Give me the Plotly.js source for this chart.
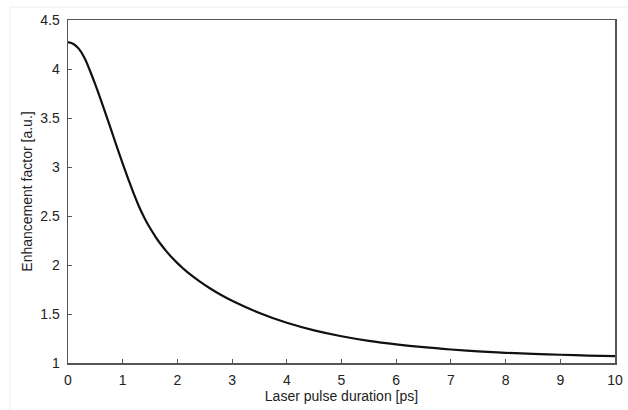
<!DOCTYPE html>
<html>
<head>
<meta charset="utf-8">
<script src="https://cdn.plot.ly/plotly-3.0.1.min.js"></script>
<style>html,body{margin:0;padding:0;background:#fff;}#chart{width:628px;height:410px;}</style>
</head>
<body>
<div id="chart"></div>
<script>
const pulseDuration = [0, 0.1, 0.2, 0.3, 0.4, 0.5, 0.6, 0.7, 0.8, 0.9, 1.0, 1.1, 1.2, 1.3, 1.4, 1.5, 1.6, 1.7, 1.8, 1.9, 2.0, 2.1, 2.2, 2.4, 2.6, 2.8, 3.0, 3.5, 4.0, 4.5, 5.0, 5.5, 6.0, 6.5, 7.0, 7.5, 8.0, 8.5, 9.0, 9.5, 10];
const enhancement = [4.275, 4.255, 4.205, 4.115, 3.985, 3.84, 3.685, 3.525, 3.36, 3.195, 3.035, 2.88, 2.73, 2.595, 2.478, 2.377, 2.288, 2.209, 2.139, 2.076, 2.019, 1.967, 1.919, 1.835, 1.76, 1.694, 1.635, 1.51, 1.41, 1.333, 1.273, 1.226, 1.19, 1.161, 1.138, 1.119, 1.104, 1.093, 1.084, 1.076, 1.07];
const xTicks = [0,1,2,3,4,5,6,7,8,9,10];
const yTicks = [1,1.5,2,2.5,3,3.5,4,4.5];

const L = 68, R = 13, T = 20, B = 47;
const pw = 628 - L - R, ph = 410 - T - B;
const FONT = 'Liberation Sans, Arial, sans-serif';

const trace = {
  x: pulseDuration, y: enhancement, type: 'scatter', mode: 'lines',
  line: {color: '#111', width: 2.2, shape: 'spline', smoothing: 1},
  hoverinfo: 'skip'
};
const axisCommon = {
  showgrid: false, zeroline: false, showline: true, mirror: true,
  linecolor: '#555', linewidth: 1.5, ticks: 'inside', ticklen: 4,
  tickcolor: '#555', tickwidth: 1, ticklabelstandoff: 4,
  tickfont: {family: FONT, size: 14, color: '#222'}
};
const layout = {
  width: 628, height: 410,
  margin: {l: L, r: R, t: T, b: B, pad: 0},
  paper_bgcolor: '#fff', plot_bgcolor: '#fff',
  showlegend: false,
  xaxis: Object.assign({}, axisCommon, {
    range: [0, 10], tickvals: xTicks, ticktext: xTicks.map(String),
    title: {text: 'Laser pulse duration [ps]', standoff: 2,
      font: {family: FONT, size: 14, color: '#222'}}
  }),
  yaxis: Object.assign({}, axisCommon, {
    range: [1, 4.5], tickvals: yTicks, ticktext: yTicks.map(String),
    title: {text: 'Enhancement factor [a.u.]', standoff: 4,
      font: {family: FONT, size: 14, color: '#222'}}
  }),
  shapes: [{
    type: 'rect', xref: 'paper', yref: 'paper', layer: 'below',
    x0: (10 - L) / pw, x1: (640 - L) / pw,
    y0: -(420 - 410 + B) / ph, y1: 1 + (T - 7) / ph,
    line: {color: '#ececec', width: 1}
  }]
};
Plotly.newPlot('chart', [trace], layout, {staticPlot: true, displayModeBar: false});
</script>
</body>
</html>
